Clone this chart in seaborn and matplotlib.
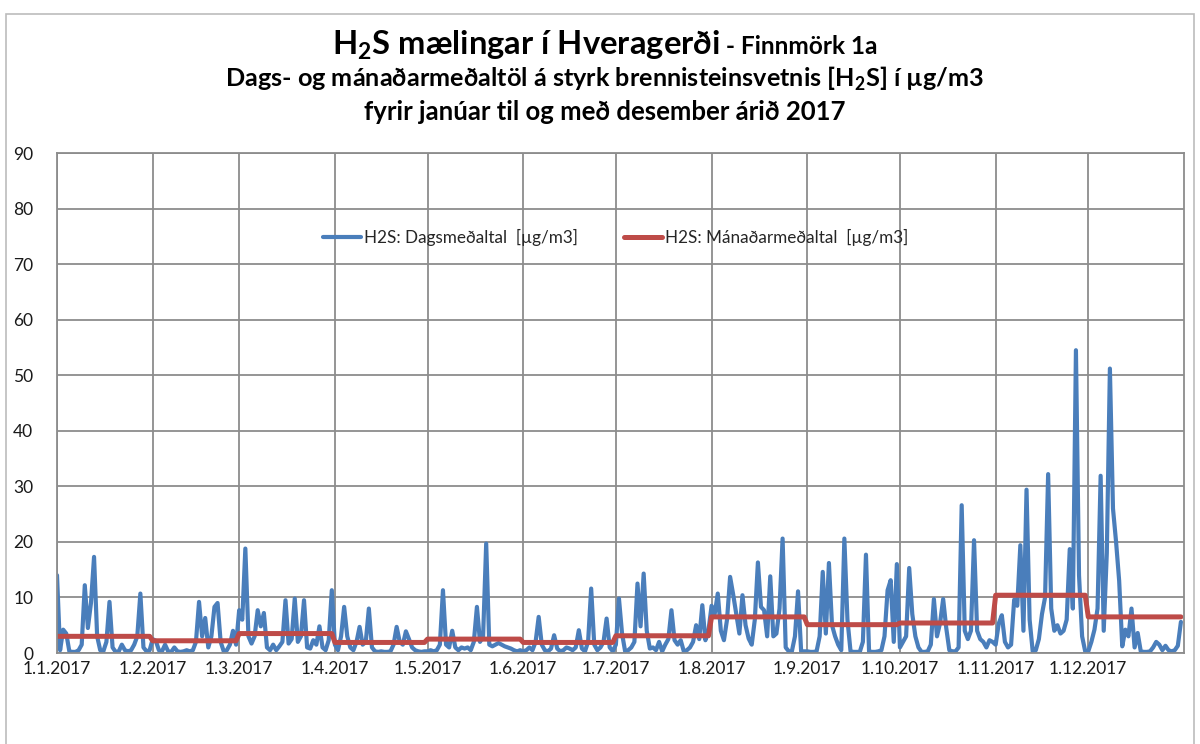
import numpy as np
import pandas as pd
import matplotlib
matplotlib.use("Agg")
import matplotlib.pyplot as plt
from matplotlib.lines import Line2D
from matplotlib.patches import Rectangle
import seaborn as sns

# ---------------- data (µg/m3) ----------------
jan = [14, 0.5, 4.2, 3.5, 0.3, 0.2, 0.2, 0.5, 1.5, 12.2, 4.5, 9.0, 17.3, 3.0, 0.5, 0.3,
       2.0, 9.2, 1.0, 0.2, 0.3, 1.5, 0.5, 0.3, 0.5, 1.5, 3.0, 10.7, 1.0, 0.3, 0.5]
feb = [2.5, 2.2, 0.5, 0.3, 1.5, 0.3, 0.2, 1.0, 0.3, 0.2, 0.3, 0.5, 0.3, 0.5, 2.0, 9.2,
       3.0, 6.3, 1.0, 3.0, 8.3, 9.0, 2.0, 0.3, 0.5, 1.5, 4.0, 1.5]
mar = [7.7, 6.0, 18.8, 3.0, 1.7, 3.0, 7.7, 4.8, 7.2, 1.0, 0.5, 1.5, 0.5, 1.2, 2.0, 9.5,
       1.7, 2.5, 9.8, 2.0, 3.0, 9.5, 1.0, 0.8, 2.3, 1.5, 4.8, 1.0, 0.5, 2.3, 11.3]
apr = [1.5, 0.5, 3.0, 8.3, 3.0, 1.0, 0.5, 2.0, 4.7, 1.5, 2.0, 8.0, 1.0, 0.3, 0.2, 0.3,
       0.2, 0.2, 0.3, 1.5, 4.7, 2.0, 1.5, 3.9, 2.5, 1.0, 0.5, 0.3, 0.2, 0.3]
may = [0.3, 0.5, 0.3, 0.5, 1.5, 11.3, 1.5, 1.0, 4.0, 1.0, 0.5, 1.0, 0.8, 1.0, 0.5, 2.0,
       8.3, 2.0, 3.0, 19.7, 1.5, 1.2, 1.5, 1.8, 1.5, 1.2, 1.0, 0.8, 0.5, 0.3, 0.5]
jun = [0.3, 0.5, 1.0, 0.5, 2.0, 6.5, 1.5, 0.5, 0.3, 0.8, 3.2, 0.8, 0.3, 0.5, 1.0, 0.8,
       0.5, 1.0, 4.1, 0.8, 0.3, 2.0, 11.6, 1.5, 0.5, 1.0, 2.0, 6.2, 1.0, 0.3]
jul = [1.5, 9.8, 3.5, 0.3, 0.5, 1.0, 2.0, 12.5, 4.8, 14.3, 4.0, 0.8, 1.0, 0.5, 2.0, 0.3,
       1.5, 2.5, 7.7, 2.3, 1.5, 2.3, 0.3, 0.5, 1.0, 2.0, 5.0, 2.5, 8.6, 2.3, 4.1]
aug = [8.5, 7.0, 10.7, 4.0, 2.3, 6.0, 13.7, 10.5, 7.0, 3.5, 10.4, 5.0, 2.6, 1.5, 6.0, 16.3,
       8.3, 7.7, 3.0, 13.8, 3.0, 3.5, 8.0, 20.6, 1.0, 0.3, 0.3, 3.0, 11.1, 0.3, 0.3]
sep = [0.3, 0.2, 0.2, 0.3, 3.0, 14.6, 3.5, 16.2, 5.0, 3.0, 1.5, 0.5, 20.6, 6.0, 0.3, 0.2,
       0.2, 0.2, 2.0, 17.7, 0.3, 0.2, 0.2, 0.3, 0.5, 3.0, 11.3, 13.1, 2.0, 16.0]
okt = [1.0, 2.0, 3.0, 15.3, 7.0, 3.0, 1.0, 0.2, 0.2, 0.3, 1.5, 9.7, 3.0, 5.4, 9.7, 4.5,
       0.5, 0.3, 0.3, 1.0, 26.6, 4.0, 2.5, 4.0, 20.3, 4.0, 2.5, 2.0, 1.0, 2.3, 2.0]
nov = [1.5, 5.3, 6.8, 2.0, 1.0, 1.5, 9.6, 8.5, 19.4, 4.0, 29.4, 6.0, 0.3, 0.5, 2.5, 7.0,
       10.0, 32.2, 8.0, 4.0, 5.0, 3.5, 4.0, 6.0, 18.7, 8.0, 54.5, 14.0, 3.0, 0.3]
des = [0.3, 2.0, 4.2, 8.0, 31.9, 4.0, 18.0, 51.2, 26.0, 20.0, 13.0, 1.2, 4.2, 3.0, 8.0, 1.0,
       3.6, 0.3, 0.2, 0.2, 0.3, 1.0, 2.0, 1.5, 0.5, 1.3, 0.5, 0.3, 0.5, 1.3, 5.6]

monthly_mean = [3.0, 2.2, 3.5, 1.9, 2.5, 1.9, 3.1, 6.5, 5.1, 5.4, 10.4, 6.5]

month_labels = ["1.1.2017", "1.2.2017", "1.3.2017", "1.4.2017", "1.5.2017", "1.6.2017",
                "1.7.2017", "1.8.2017", "1.9.2017", "1.10.2017", "1.11.2017", "1.12.2017"]
y_ticks = [0, 10, 20, 30, 40, 50, 60, 70, 80, 90]

label_daily = "H2S: Dagsmeðaltal  [µg/m3]"
label_monthly = "H2S: Mánaðarmeðaltal  [µg/m3]"

# ---------------- build frame ----------------
months = [jan, feb, mar, apr, may, jun, jul, aug, sep, okt, nov, des]
daily = np.concatenate([np.array(m, dtype=float) for m in months])
dates = pd.date_range("2017-01-01", periods=len(daily), freq="D")
monthly_per_day = np.repeat(monthly_mean, [len(m) for m in months])
df = pd.DataFrame({"date": dates, "daily": daily, "monthly": monthly_per_day})

BLUE = "#4a7ebb"
RED = "#be4b48"
GRID = "#8c8c8c"

sns.set_theme(style="white")
plt.rcParams["font.family"] = ["Lato", "DejaVu Sans"]
plt.rcParams["mathtext.fontset"] = "custom"
plt.rcParams["mathtext.rm"] = "Lato"
plt.rcParams["mathtext.bf"] = "Lato:bold"

W, H = 1200, 744
fig = plt.figure(figsize=(W / 100, H / 100), dpi=100)
fig.patch.set_facecolor("white")

# chart border
fig.add_artist(Rectangle((6 / W, -0.01), 1188 / W, (H - 14) / H + 0.01,
                         transform=fig.transFigure, fill=False,
                         edgecolor="#bcbcbc", linewidth=1.2))

ax_l, ax_r, ax_t, ax_b = 57, 1184, 153, 653
ax = fig.add_axes([ax_l / W, 1 - ax_b / H, (ax_r - ax_l) / W, (ax_b - ax_t) / H])

sns.lineplot(data=df, x="date", y="daily", ax=ax, color=BLUE, linewidth=3.0,
             label=label_daily, legend=False)
sns.lineplot(data=df, x="date", y="monthly", ax=ax, color=RED, linewidth=3.6,
             label=label_monthly, legend=False)

ax.set_xlim(pd.Timestamp("2017-01-01"), pd.Timestamp("2018-01-01"))
ax.set_ylim(0, 90)
ax.set_yticks(y_ticks)
ax.set_yticklabels([str(v) for v in y_ticks])
month_starts = pd.date_range("2017-01-01", periods=12, freq="MS")
ax.set_xticks(month_starts)
ax.set_xticklabels(month_labels)
ax.set_xlabel("")
ax.set_ylabel("")
ax.grid(True, color=GRID, linewidth=1.3)
for s in ax.spines.values():
    s.set_color(GRID)
    s.set_linewidth(1.3)
ax.tick_params(axis="both", length=0, labelsize=12.5, colors="#1a1a1a")
ax.tick_params(axis="x", pad=6)
ax.tick_params(axis="y", pad=17)

handles = [Line2D([], [], color=BLUE, linewidth=3.0), Line2D([], [], color=RED, linewidth=3.6)]
ax.legend(handles, [label_daily, label_monthly], loc="center",
          bbox_to_anchor=(0.496, 0.832), ncol=2, frameon=False,
          fontsize=12.3, handlelength=2.2, handletextpad=0.2, columnspacing=2.7)

# ---------------- titles ----------------
renderer = fig.canvas.get_renderer()


def px_to_fig(x, y):
    return x / W, 1 - y / H


def fit(text, target):
    w = text.get_window_extent(renderer).width
    text.set_fontsize(text.get_fontsize() * target / w)


cx = 605
t1 = fig.text(0, 0, r"H$_\mathbf{2}$S mælingar í Hveragerði", fontsize=20,
              fontweight="bold", ha="left", va="baseline", color="black")
t2 = fig.text(0, 0, " - Finnmörk 1a", fontsize=15, fontweight="bold",
              ha="left", va="baseline", color="black")
fit(t1, 388)
fit(t2, 158)
w1 = t1.get_window_extent(renderer).width
w2 = t2.get_window_extent(renderer).width
x0 = cx - (w1 + w2) / 2
t1.set_position(px_to_fig(x0, 54))
t2.set_position(px_to_fig(x0 + w1, 54))

t3 = fig.text(*px_to_fig(cx, 87),
              r"Dags- og mánaðarmeðaltöl á styrk brennisteinsvetnis [H$_\mathbf{2}$S] í µg/m3",
              fontsize=17, fontweight="bold", ha="center", va="baseline", color="black")
fit(t3, 760)
t4 = fig.text(*px_to_fig(cx, 120), "fyrir janúar til og með desember árið 2017",
              fontsize=17, fontweight="bold", ha="center", va="baseline", color="black")
fit(t4, 482)

fig.savefig("out.png", dpi=100)
